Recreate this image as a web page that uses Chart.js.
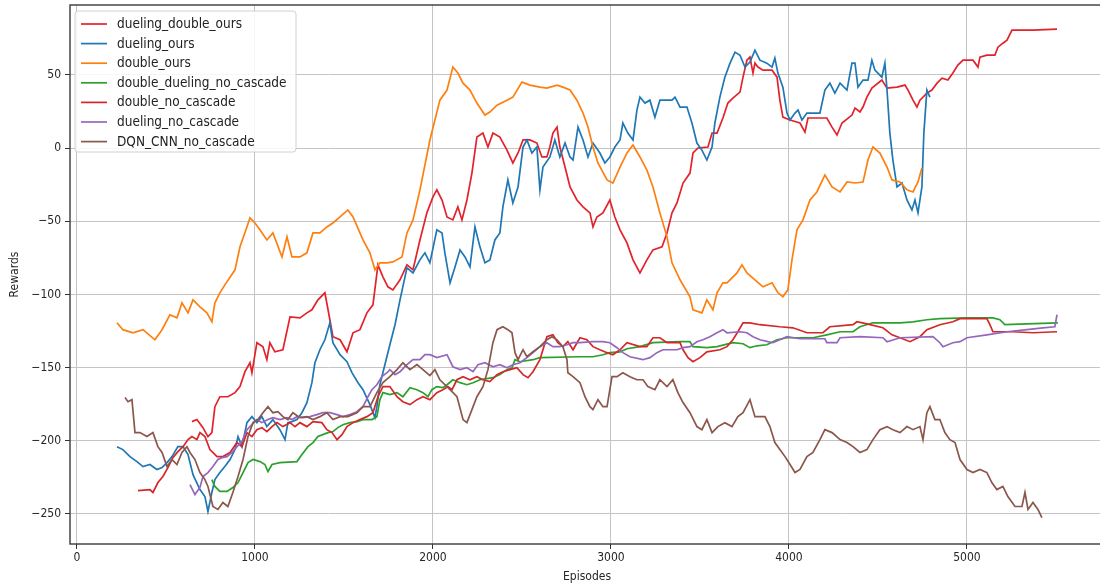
<!DOCTYPE html>
<html>
<head>
<meta charset="utf-8">
<script src="https://cdn.jsdelivr.net/npm/chart.js@4.4.1/dist/chart.umd.min.js"></script>
<style>
  html, body { margin: 0; padding: 0; background: #fff; overflow: hidden; }
  #wrap { width: 1108px; height: 586px; }
</style>
</head>
<body>
<div id="wrap"><canvas id="c" width="1108" height="586"></canvas></div>
<script>
// Axis ticks
const episodeTicks = [0, 1000, 2000, 3000, 4000, 5000];
const rewardTicks = [-250, -200, -150, -100, -50, 0, 50];

const seriesNames = [
  'dueling_double_ours', 'dueling_ours', 'double_ours',
  'double_dueling_no_cascade', 'double_no_cascade', 'dueling_no_cascade',
  'DQN_CNN_no_cascade'
];

// Smoothed reward per run: [episode, reward]
const duelingDoubleOurs = [
  [646,-186.9],[674,-185.5],[708,-191.0],[736,-197.1],[758,-194.4],[775,-176.7],[803,-169.9],[848,-169.9],
  [888,-167.1],[916,-163.0],[944,-152.8],[972,-146.7],[983,-153.5],[1011,-133.0],[1045,-135.7],[1067,-144.6],
  [1084,-133.0],[1112,-139.2],[1157,-137.8],[1197,-115.3],[1253,-116.0],[1292,-112.6],[1320,-110.5],[1354,-103.7],
  [1393,-98.9],[1421,-117.3],[1438,-128.9],[1478,-131.0],[1517,-139.2],[1551,-126.2],[1590,-124.1],[1629,-112.6],
  [1663,-107.1],[1691,-79.8],[1719,-88.0],[1747,-94.8],[1775,-96.9],[1815,-90.0],[1854,-79.8],[1888,-83.2],
  [1927,-62.8],[1966,-44.3],[2000,-33.4],[2022,-28.6],[2051,-35.5],[2079,-47.1],[2112,-49.1],[2140,-40.2],
  [2163,-49.1],[2191,-35.5],[2219,-17.1],[2247,7.5],[2281,10.2],[2309,0.7],[2337,10.2],[2376,7.5],
  [2416,-1.4],[2449,-10.2],[2478,-3.4],[2506,5.5],[2545,5.5],[2584,3.4],[2612,-6.1],[2640,-6.1],
  [2657,0.7],[2674,10.2],[2697,14.3],[2713,0.7],[2742,-13.0],[2770,-26.6],[2809,-35.5],[2843,-40.2],
  [2882,-44.3],[2899,-53.9],[2921,-47.1],[2955,-44.3],[2994,-35.5],[3022,-47.1],[3051,-55.9],[3090,-64.8],
  [3124,-76.4],[3163,-85.3],[3202,-76.4],[3236,-69.6],[3287,-67.5],[3315,-58.0],[3343,-44.3],[3371,-37.5],
  [3405,-23.9],[3444,-17.1],[3461,-3.4],[3489,0.0],[3545,0.7],[3568,10.2],[3596,10.2],[3629,20.5],
  [3657,30.7],[3685,34.1],[3725,38.2],[3742,48.4],[3764,60.0],[3781,62.1],[3798,51.2],[3809,58.0],
  [3826,55.3],[3854,53.2],[3905,53.2],[3933,48.4],[3949,32.7],[3966,21.1],[4006,19.1],[4062,17.1],
  [4090,10.9],[4107,20.5],[4213,20.5],[4242,14.3],[4270,8.9],[4298,17.1],[4354,22.5],[4371,27.3],
  [4399,24.6],[4416,28.0],[4438,34.8],[4466,40.9],[4522,46.4],[4551,40.9],[4607,41.6],[4652,43.0],
  [4669,39.6],[4697,32.7],[4719,28.0],[4736,32.7],[4775,37.5],[4803,39.6],[4832,44.3],[4860,47.7],
  [4893,46.4],[4921,51.2],[4949,56.6],[4978,60.0],[5034,60.0],[5062,55.3],[5073,62.1],[5112,63.4],
  [5157,63.4],[5174,68.9],[5202,71.6],[5225,73.7],[5253,80.5],[5371,80.5],[5506,81.2]
];

const duelingOurs = [
  [225,-204.0],[258,-206.0],[298,-210.8],[337,-214.2],[371,-217.6],[410,-216.2],[449,-219.6],[478,-218.3],
  [506,-214.9],[534,-210.8],[567,-204.0],[596,-204.0],[624,-209.4],[652,-223.1],[691,-233.3],[719,-238.1],
  [736,-248.3],[758,-235.3],[775,-226.5],[803,-221.7],[831,-217.6],[860,-212.8],[888,-206.0],[905,-197.1],
  [927,-204.0],[955,-187.6],[983,-183.5],[1011,-187.6],[1039,-183.5],[1067,-190.3],[1101,-185.5],[1140,-192.4],
  [1169,-199.2],[1185,-187.6],[1208,-186.9],[1236,-185.5],[1264,-180.8],[1292,-173.9],[1320,-160.3],[1337,-146.7],
  [1365,-137.8],[1393,-131.0],[1421,-119.4],[1438,-133.0],[1478,-141.2],[1517,-146.0],[1545,-153.5],[1579,-160.3],
  [1607,-165.1],[1646,-175.3],[1674,-184.2],[1685,-176.7],[1702,-161.7],[1730,-148.0],[1758,-134.4],[1787,-120.7],
  [1815,-103.7],[1854,-81.9],[1888,-85.3],[1927,-76.4],[1955,-71.6],[1983,-78.4],[2022,-55.9],[2051,-58.0],
  [2067,-71.6],[2096,-92.1],[2124,-81.2],[2152,-69.6],[2180,-74.4],[2208,-81.2],[2236,-53.9],[2264,-67.5],
  [2292,-78.4],[2320,-76.4],[2348,-62.8],[2376,-58.0],[2393,-40.2],[2421,-21.8],[2449,-37.5],[2478,-26.6],
  [2506,0.7],[2528,5.5],[2556,-3.4],[2584,0.7],[2601,-28.6],[2618,-13.0],[2657,-6.1],[2685,5.5],
  [2713,-6.1],[2742,3.4],[2770,-6.1],[2787,-8.2],[2815,14.3],[2843,5.5],[2871,-6.1],[2899,3.4],
  [2938,-3.4],[2966,-10.2],[2994,-6.1],[3022,0.7],[3051,5.5],[3067,17.1],[3095,10.2],[3124,5.5],
  [3146,25.9],[3163,34.8],[3191,30.7],[3219,32.7],[3247,21.1],[3275,32.7],[3343,32.7],[3360,34.8],
  [3388,28.0],[3427,28.0],[3455,17.1],[3483,3.4],[3511,-1.4],[3539,-8.2],[3568,0.7],[3584,17.1],
  [3612,34.8],[3640,48.4],[3669,58.0],[3697,65.5],[3725,63.4],[3753,55.3],[3781,58.7],[3809,66.8],
  [3837,60.0],[3876,58.0],[3905,55.3],[3921,61.4],[3938,51.2],[3966,41.6],[3989,23.9],[4006,19.1],
  [4034,23.9],[4051,25.9],[4073,19.1],[4101,23.9],[4174,23.9],[4202,39.6],[4230,44.3],[4258,37.5],
  [4287,44.3],[4326,39.6],[4354,58.0],[4371,58.0],[4388,41.6],[4416,46.4],[4444,46.4],[4466,60.0],
  [4483,53.2],[4522,48.4],[4539,58.0],[4551,39.6],[4567,10.2],[4584,-8.2],[4607,-26.6],[4635,-23.9],
  [4663,-35.5],[4691,-42.3],[4708,-35.5],[4725,-44.3],[4747,-26.6],[4758,10.2],[4775,39.6],[4792,34.8]
];

const doubleOurs = [
  [225,-119.4],[258,-124.1],[315,-126.2],[371,-124.1],[438,-131.0],[478,-124.1],[522,-113.9],[562,-116.0],
  [590,-105.7],[624,-112.6],[652,-103.7],[691,-108.5],[730,-112.6],[758,-118.7],[775,-105.7],[803,-98.9],
  [831,-93.5],[888,-83.2],[916,-67.5],[955,-53.9],[972,-47.7],[1000,-51.2],[1028,-55.9],[1067,-62.8],
  [1101,-58.0],[1152,-74.4],[1180,-60.7],[1208,-74.4],[1253,-74.4],[1292,-71.6],[1326,-58.0],[1365,-58.0],
  [1404,-53.9],[1438,-51.2],[1478,-47.1],[1522,-42.3],[1551,-47.1],[1607,-62.8],[1646,-71.6],[1674,-83.2],
  [1702,-78.4],[1742,-78.4],[1775,-77.8],[1826,-74.4],[1854,-58.0],[1888,-49.1],[1927,-28.6],[1983,5.5],
  [2039,32.7],[2079,39.6],[2112,55.3],[2140,51.2],[2169,44.3],[2208,39.6],[2247,30.7],[2292,22.5],
  [2320,24.6],[2360,29.3],[2416,32.7],[2449,34.8],[2500,45.0],[2545,43.0],[2601,41.6],[2640,40.9],
  [2697,43.0],[2730,41.6],[2770,39.6],[2809,32.7],[2843,23.9],[2871,14.3],[2899,0.7],[2927,-10.2],
  [2978,-21.8],[3011,-23.9],[3051,-13.0],[3090,-3.4],[3124,2.0],[3163,-6.1],[3202,-15.0],[3236,-26.6],
  [3275,-44.3],[3315,-60.7],[3343,-78.4],[3388,-90.0],[3444,-101.6],[3461,-110.5],[3511,-112.6],[3539,-103.7],
  [3573,-110.5],[3596,-98.9],[3629,-92.1],[3652,-92.1],[3708,-85.3],[3736,-79.8],[3764,-85.3],[3809,-90.0],
  [3854,-94.8],[3905,-92.1],[3938,-98.9],[3966,-101.6],[3994,-96.9],[4017,-76.4],[4045,-55.9],[4079,-49.1],
  [4118,-35.5],[4157,-30.0],[4202,-18.4],[4242,-26.6],[4287,-30.0],[4326,-23.2],[4371,-23.9],[4416,-23.2],
  [4444,-8.2],[4472,0.7],[4511,-3.4],[4551,-13.0],[4579,-21.8],[4624,-23.2],[4663,-28.6],[4697,-30.0],
  [4725,-23.2],[4747,-13.6]
];

const doubleDuelingNoCascade = [
  [758,-226.5],[775,-231.2],[803,-234.6],[843,-234.6],[876,-231.9],[905,-228.5],[933,-221.7],[961,-214.9],
  [989,-212.8],[1028,-214.2],[1056,-216.2],[1073,-221.0],[1096,-216.2],[1140,-214.9],[1236,-214.2],[1264,-209.4],
  [1298,-204.0],[1326,-201.2],[1354,-197.1],[1410,-194.4],[1438,-193.7],[1466,-191.0],[1494,-189.0],[1534,-187.6],
  [1573,-186.9],[1607,-185.5],[1657,-185.5],[1685,-183.5],[1702,-171.9],[1719,-167.1],[1758,-168.5],[1798,-167.1],
  [1831,-169.9],[1871,-163.7],[1910,-165.1],[1944,-167.1],[1972,-169.9],[1994,-165.1],[2022,-163.0],[2056,-163.7],
  [2079,-161.7],[2112,-158.3],[2152,-160.3],[2191,-161.7],[2225,-160.3],[2264,-158.3],[2337,-156.9],[2376,-154.8],
  [2416,-151.4],[2444,-150.1],[2461,-144.6],[2489,-146.0],[2562,-144.6],[2601,-143.2],[2826,-142.6],[2899,-142.6],
  [2955,-141.2],[2994,-139.8],[3051,-139.2],[3090,-137.1],[3163,-135.7],[3236,-133.0],[3388,-132.3],[3444,-132.3],
  [3461,-135.7],[3539,-136.4],[3596,-135.7],[3685,-133.0],[3742,-133.7],[3781,-136.4],[3820,-135.1],[3876,-134.4],
  [3933,-131.0],[3989,-129.6],[4135,-129.6],[4213,-127.6],[4287,-125.5],[4360,-125.5],[4399,-122.1],[4472,-119.4],
  [4624,-119.4],[4697,-118.7],[4775,-117.3],[4848,-116.6],[5000,-116.0],[5146,-116.0],[5185,-117.3],[5213,-120.7],
  [5337,-120.1],[5511,-119.4]
];

const doubleNoCascade = [
  [343,-234.0],[410,-233.3],[427,-235.3],[455,-228.5],[483,-224.4],[511,-218.3],[539,-211.5],[567,-207.4],
  [596,-204.0],[624,-199.2],[646,-197.1],[674,-199.2],[691,-194.4],[719,-197.1],[747,-206.0],[787,-210.8],
  [820,-210.8],[860,-208.0],[899,-201.2],[927,-204.0],[955,-194.4],[983,-197.1],[1011,-192.4],[1039,-191.0],
  [1067,-193.7],[1096,-190.3],[1124,-187.6],[1157,-190.3],[1197,-187.6],[1225,-190.3],[1253,-187.6],[1292,-190.3],
  [1326,-186.9],[1376,-187.6],[1404,-192.4],[1433,-194.4],[1461,-199.2],[1489,-195.8],[1517,-190.3],[1551,-187.6],
  [1590,-185.5],[1629,-183.5],[1663,-180.8],[1691,-169.9],[1719,-163.0],[1758,-163.0],[1798,-169.9],[1831,-173.3],
  [1871,-175.3],[1910,-171.9],[1944,-169.9],[1983,-171.9],[2022,-167.1],[2056,-165.1],[2084,-163.0],[2107,-165.1],
  [2135,-158.3],[2169,-156.2],[2208,-158.3],[2247,-156.2],[2281,-158.3],[2320,-159.6],[2360,-154.8],[2393,-152.8],
  [2433,-151.4],[2472,-150.1],[2506,-154.8],[2534,-156.9],[2562,-152.8],[2601,-144.6],[2640,-128.9],[2674,-127.6],
  [2702,-133.0],[2730,-135.7],[2758,-132.3],[2787,-137.8],[2826,-129.6],[2865,-131.0],[2899,-135.7],[2938,-137.8],
  [2978,-139.8],[3011,-141.2],[3051,-137.8],[3090,-133.0],[3163,-135.7],[3202,-135.7],[3236,-129.6],[3275,-129.6],
  [3315,-133.0],[3388,-133.0],[3405,-137.8],[3433,-143.2],[3461,-146.0],[3500,-143.2],[3539,-139.2],[3612,-137.8],
  [3652,-135.7],[3685,-131.0],[3713,-125.5],[3742,-119.4],[3781,-119.4],[3837,-120.7],[3949,-122.1],[4022,-122.8],
  [4101,-126.2],[4191,-126.2],[4230,-122.1],[4360,-120.7],[4382,-118.7],[4438,-120.1],[4528,-122.8],[4579,-127.6],
  [4624,-129.6],[4680,-132.3],[4736,-128.9],[4775,-124.1],[4848,-120.7],[4921,-118.7],[4961,-116.6],[5112,-116.6],
  [5129,-120.7],[5146,-125.5],[5258,-125.5],[5371,-126.2],[5506,-125.5]
];

const duelingNoCascade = [
  [635,-229.9],[663,-236.7],[691,-231.9],[708,-224.4],[736,-221.7],[764,-217.6],[792,-212.8],[815,-211.5],
  [843,-210.8],[871,-208.0],[899,-204.0],[927,-200.5],[955,-192.4],[983,-188.9],[1011,-185.5],[1039,-187.6],
  [1073,-185.5],[1101,-184.2],[1140,-185.5],[1180,-184.2],[1208,-185.5],[1236,-183.5],[1270,-184.2],[1309,-183.5],
  [1348,-182.1],[1382,-180.8],[1421,-180.8],[1461,-182.1],[1494,-183.5],[1534,-182.1],[1573,-180.1],[1607,-176.7],
  [1635,-169.9],[1657,-165.1],[1685,-161.7],[1713,-156.2],[1742,-153.5],[1758,-151.4],[1787,-154.8],[1815,-152.8],
  [1854,-148.0],[1888,-144.6],[1927,-144.6],[1955,-141.2],[1983,-141.2],[2022,-143.2],[2079,-141.2],[2112,-149.4],
  [2152,-151.4],[2191,-150.1],[2225,-152.8],[2253,-148.0],[2292,-146.7],[2337,-149.4],[2376,-148.0],[2416,-150.1],
  [2449,-148.0],[2489,-146.7],[2528,-143.2],[2562,-139.8],[2601,-135.7],[2640,-133.0],[2674,-135.7],[2713,-135.7],
  [2753,-134.4],[2787,-133.0],[2826,-133.0],[2899,-132.3],[2955,-132.3],[2994,-133.0],[3034,-136.4],[3067,-139.8],
  [3107,-142.6],[3180,-144.6],[3219,-143.2],[3258,-139.8],[3292,-137.8],[3371,-137.8],[3405,-136.4],[3444,-135.7],
  [3483,-132.3],[3517,-131.0],[3556,-128.9],[3596,-126.2],[3629,-124.1],[3652,-126.2],[3725,-125.5],[3764,-126.2],
  [3798,-128.9],[3837,-131.0],[3882,-132.3],[3910,-133.0],[3989,-128.9],[4062,-130.3],[4202,-130.3],[4213,-133.0],
  [4270,-133.0],[4287,-129.6],[4399,-128.9],[4528,-129.6],[4551,-132.3],[4624,-129.6],[4809,-128.9],[4848,-133.0],
  [4865,-135.7],[4921,-133.0],[4961,-132.3],[5000,-129.6],[5112,-127.6],[5225,-125.5],[5337,-124.1],[5427,-122.8],
  [5494,-122.1],[5506,-113.9]
];

const dqnCnnNoCascade = [
  [270,-170.5],[287,-173.3],[309,-171.9],[326,-194.4],[354,-194.4],[393,-197.1],[427,-194.4],[455,-204.0],
  [478,-208.0],[506,-217.6],[534,-212.8],[562,-216.2],[590,-208.0],[618,-204.0],[635,-208.0],[663,-212.8],
  [691,-221.7],[719,-226.5],[736,-231.2],[764,-244.9],[792,-246.9],[820,-242.2],[848,-244.9],[876,-235.3],
  [905,-224.4],[933,-212.8],[961,-197.1],[989,-187.6],[1017,-185.5],[1045,-180.8],[1073,-176.7],[1101,-180.8],
  [1129,-180.1],[1157,-183.5],[1185,-185.5],[1213,-180.8],[1253,-184.2],[1292,-183.5],[1326,-185.5],[1365,-183.5],
  [1404,-180.8],[1438,-185.5],[1478,-183.5],[1522,-183.5],[1573,-180.8],[1607,-176.7],[1646,-176.7],[1685,-167.1],
  [1719,-160.3],[1758,-156.2],[1798,-151.4],[1831,-146.7],[1871,-151.4],[1910,-148.0],[1944,-151.4],[1983,-155.5],
  [2011,-151.4],[2039,-158.3],[2096,-165.1],[2135,-169.9],[2169,-185.5],[2191,-187.6],[2219,-178.7],[2247,-169.9],
  [2281,-163.0],[2309,-151.4],[2337,-133.0],[2360,-124.1],[2393,-122.1],[2421,-124.1],[2444,-126.2],[2461,-139.8],
  [2478,-144.6],[2506,-137.8],[2528,-142.6],[2562,-139.2],[2601,-135.7],[2640,-131.0],[2669,-128.9],[2697,-131.0],
  [2730,-135.7],[2753,-144.6],[2758,-153.5],[2787,-156.2],[2826,-160.3],[2854,-169.9],[2882,-176.7],[2899,-178.7],
  [2927,-171.9],[2955,-176.7],[2978,-176.7],[3006,-156.2],[3034,-156.2],[3067,-153.5],[3107,-156.2],[3146,-158.3],
  [3180,-158.3],[3208,-163.0],[3247,-165.1],[3275,-158.3],[3315,-163.0],[3348,-158.3],[3376,-167.1],[3405,-173.9],
  [3444,-180.8],[3483,-190.3],[3511,-192.4],[3539,-185.5],[3568,-194.4],[3601,-190.3],[3640,-187.6],[3680,-190.3],
  [3713,-183.5],[3742,-180.8],[3781,-171.9],[3809,-183.5],[3865,-183.5],[3893,-190.3],[3921,-201.2],[3949,-206.0],
  [3978,-210.8],[4006,-216.2],[4034,-221.7],[4062,-219.6],[4101,-210.8],[4135,-208.0],[4174,-199.2],[4202,-192.4],
  [4242,-194.4],[4287,-199.2],[4326,-201.2],[4360,-204.0],[4399,-208.0],[4438,-206.0],[4472,-199.2],[4511,-192.4],
  [4551,-190.3],[4584,-192.4],[4624,-194.4],[4663,-190.3],[4697,-192.4],[4736,-190.3],[4753,-199.2],[4775,-180.8],
  [4792,-176.7],[4820,-185.5],[4848,-185.5],[4876,-194.4],[4904,-199.2],[4933,-201.2],[4961,-212.8],[5000,-219.6],
  [5034,-221.7],[5073,-219.6],[5112,-221.7],[5140,-228.5],[5168,-233.3],[5202,-231.2],[5230,-238.1],[5270,-244.9],
  [5309,-244.9],[5326,-235.3],[5343,-246.9],[5371,-242.2],[5399,-246.9],[5421,-252.4]
];

const seriesData = [
  duelingDoubleOurs, duelingOurs, doubleOurs, doubleDuelingNoCascade,
  doubleNoCascade, duelingNoCascade, dqnCnnNoCascade
];
const seriesColors = ['#e3222b', '#1f77b4', '#ff7f0e', '#2ca02c', '#d62728', '#9467bd', '#8c564b'];

const FONT = '"DejaVu Sans Condensed", "DejaVu Sans", sans-serif';
const minus = v => String(v).replace('-', '\u2212');

// Legend drawn inside the plot with a framed, semi-opaque box
const boxLegend = {
  id: 'boxLegend',
  afterDraw(chart) {
    const ctx = chart.ctx;
    const x0 = 75, y0 = 11, w = 221, h = 141, r = 3;
    ctx.save();
    ctx.font = '12px ' + FONT;
    const fit = 12 * 125 / ctx.measureText('dueling_double_ours').width;
    ctx.beginPath();
    ctx.moveTo(x0 + r, y0);
    ctx.arcTo(x0 + w, y0, x0 + w, y0 + h, r);
    ctx.arcTo(x0 + w, y0 + h, x0, y0 + h, r);
    ctx.arcTo(x0, y0 + h, x0, y0, r);
    ctx.arcTo(x0, y0, x0 + w, y0, r);
    ctx.closePath();
    ctx.fillStyle = 'rgba(255,255,255,0.85)';
    ctx.fill();
    ctx.strokeStyle = '#d0d0d0';
    ctx.lineWidth = 1;
    ctx.stroke();
    ctx.font = fit.toFixed(2) + 'px ' + FONT;
    ctx.textBaseline = 'middle';
    ctx.textAlign = 'left';
    chart.data.datasets.forEach((ds, i) => {
      const y = y0 + 13 + i * 19.6;
      ctx.beginPath();
      ctx.moveTo(x0 + 6, y);
      ctx.lineTo(x0 + 32, y);
      ctx.strokeStyle = ds.borderColor;
      ctx.lineWidth = 1.7;
      ctx.stroke();
      ctx.fillStyle = '#222';
      ctx.fillText(ds.label, x0 + 42, y + 0.5);
    });
    ctx.restore();
  }
};

// Axes frame around the plot area
const frame = {
  id: 'frame',
  afterDatasetsDraw(chart) {
    const { left, top, right, bottom } = chart.chartArea;
    const ctx = chart.ctx;
    ctx.save();
    ctx.strokeStyle = '#3a3a3a';
    ctx.lineWidth = 1.4;
    ctx.strokeRect(left, top, right - left, bottom - top);
    ctx.restore();
  }
};

const datasets = seriesNames.map((name, i) => ({
  label: name,
  data: seriesData[i].map(([x, y]) => ({ x, y })),
  borderColor: seriesColors[i],
  borderWidth: 1.7,
  pointRadius: 0,
  fill: false,
  tension: 0,
  order: seriesNames.length - 1 - i
}));

new Chart(document.getElementById('c'), {
  type: 'line',
  data: { datasets },
  plugins: [frame, boxLegend],
  options: {
    responsive: false,
    devicePixelRatio: 1,
    animation: false,
    layout: { padding: { left: 0, top: 5, right: 4, bottom: 0 } },
    plugins: { legend: { display: false }, tooltip: { enabled: false } },
    scales: {
      x: {
        type: 'linear',
        min: -39,
        max: 5770,
        afterBuildTicks: s => { s.ticks = episodeTicks.map(v => ({ value: v })); },
        afterFit: s => { s.height = 42; s.paddingLeft = 0; s.paddingRight = 0; },
        ticks: { font: { family: FONT, size: 12 }, color: '#262626', padding: 2, maxRotation: 0, autoSkip: false, callback: v => minus(v) },
        grid: { color: '#c4c4c4', lineWidth: 1, tickLength: 5, tickColor: '#333' },
        border: { display: false },
        title: { display: true, text: 'Episodes', font: { family: FONT, size: 12 }, color: '#262626', padding: { top: 0, bottom: 2 } }
      },
      y: {
        type: 'linear',
        min: -270.5,
        max: 97.7,
        afterBuildTicks: s => { s.ticks = rewardTicks.map(v => ({ value: v })); },
        afterFit: s => { s.width = 70; s.paddingTop = 0; s.paddingBottom = 0; },
        ticks: { font: { family: FONT, size: 12 }, color: '#262626', padding: 4, autoSkip: false, callback: v => minus(v) },
        grid: { color: '#c4c4c4', lineWidth: 1, tickLength: 5, tickColor: '#333' },
        border: { display: false },
        title: { display: true, text: 'Rewards', font: { family: FONT, size: 12 }, color: '#262626', padding: { top: 8, bottom: 0 } }
      }
    }
  }
});
</script>
</body>
</html>
